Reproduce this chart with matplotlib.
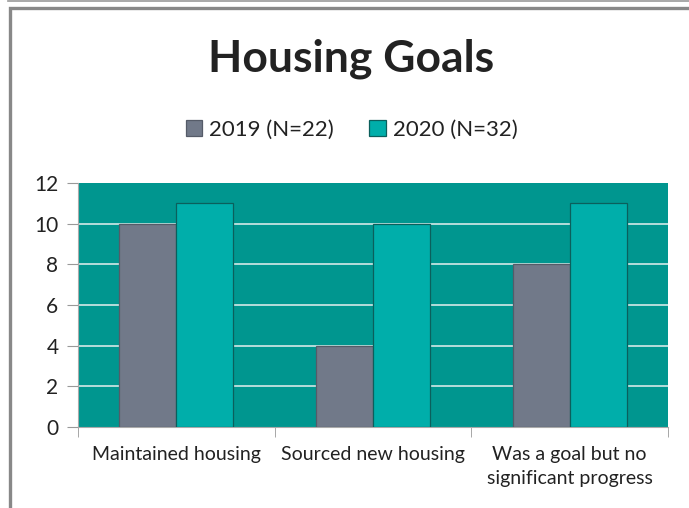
import numpy as np
import matplotlib.pyplot as plt
from matplotlib.lines import Line2D
from matplotlib.patches import Rectangle

plt.rcParams['font.family'] = ['Lato', 'DejaVu Sans']

categories = ["Maintained housing", "Sourced new housing", "Was a goal but no\nsignificant progress"]
series = ["2019 (N=22)", "2020 (N=32)"]
vals_2019 = [10, 4, 8]
vals_2020 = [11, 10, 11]
yticks = [0, 2, 4, 6, 8, 10, 12]

colors = ['#717989', '#00aeaa']
edges = ['#555b68', '#0b5f5c']
bg = '#00968f'

fig = plt.figure(figsize=(6.89, 5.08), dpi=100)
ax = fig.add_axes([0.113, 0.1594, 0.8565, 0.4804])
ax.set_facecolor(bg)

x = np.arange(len(categories))
w = 0.29
for i, (vals, c, e) in enumerate(zip([vals_2019, vals_2020], colors, edges)):
    ax.bar(x + (i - 0.5) * w, vals, w, color=c, edgecolor=e, linewidth=0.9,
           label=series[i], zorder=3)

ax.set_xlim(-0.5, 2.5)
ax.set_ylim(0, 12)
ax.set_yticks(yticks)
ax.set_yticklabels([str(v) for v in yticks], fontsize=15, color='#222222')
ax.set_xticks(x)
ax.set_xticklabels(categories, fontsize=14, color='#222222', linespacing=1.45)
ax.set_xticks([-0.5, 0.5, 1.5, 2.5], minor=True)
ax.tick_params(axis='x', which='major', length=0, pad=14)
ax.tick_params(axis='x', which='minor', length=7, color='#999999')
ax.tick_params(axis='y', length=8, color='#999999', pad=6)
for yv in yticks[1:-1]:
    ax.axhline(yv, color='#c4e2e0', linewidth=1.3, zorder=2)
for s in ['top', 'right']:
    ax.spines[s].set_visible(False)
for s in ['left', 'bottom']:
    ax.spines[s].set_color('#aaaaaa')

fig.text(0.51, 0.885, "Housing Goals", ha='center', va='center', fontsize=32,
         fontweight='bold', color='#222222')
leg = fig.legend(loc='center', bbox_to_anchor=(0.51, 0.745), ncol=2, frameon=False,
                 fontsize=16, handlelength=0.75, handleheight=0.75, handletextpad=0.3,
                 columnspacing=1.6)
for t in leg.get_texts():
    t.set_color('#222222')

# outer border of the picture
fig.add_artist(Line2D([0.0116, 1], [0.999, 0.999], color='#999999', linewidth=1.2))
fig.add_artist(Rectangle((0.0138, -0.1), 1.2, 1.085, fill=False,
                         edgecolor='#888888', linewidth=2.4, transform=fig.transFigure))

fig.savefig('out.png', dpi=100)
